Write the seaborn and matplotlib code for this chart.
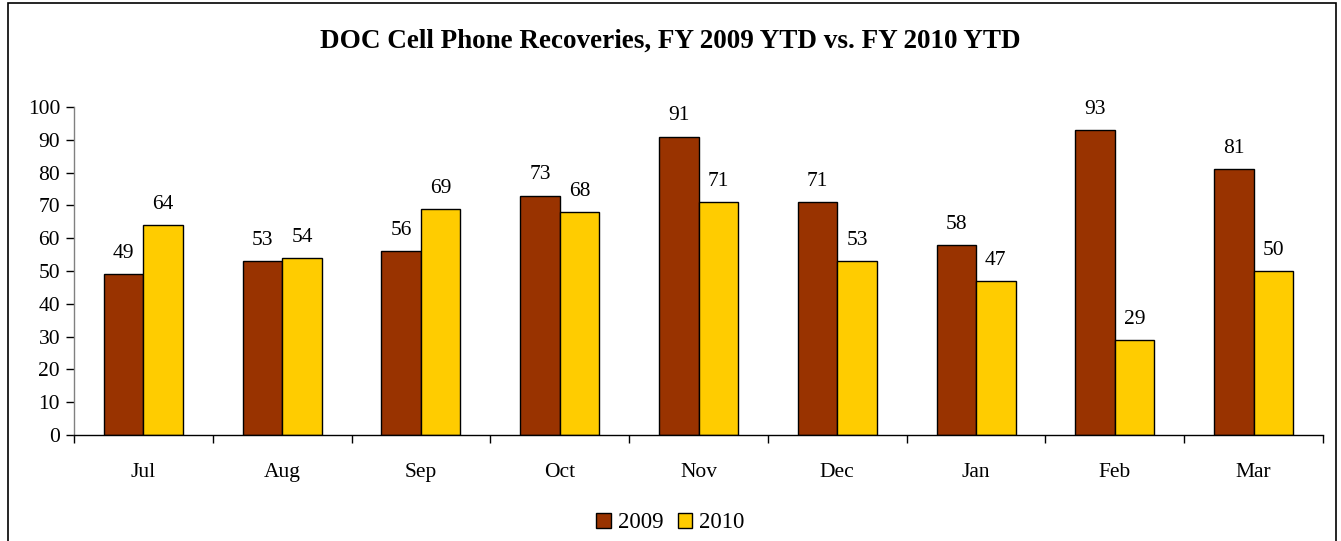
import matplotlib
matplotlib.use("Agg")
import matplotlib.pyplot as plt
import seaborn as sns
import pandas as pd
import numpy as np

months = ["Jul", "Aug", "Sep", "Oct", "Nov", "Dec", "Jan", "Feb", "Mar"]
fy2009 = [49, 53, 56, 73, 91, 71, 58, 93, 81]
fy2010 = [64, 54, 69, 68, 71, 53, 47, 29, 50]
series = ["2009", "2010"]
colors = ["#993300", "#FFCC00"]

df = pd.DataFrame({
    "Month": months * 2,
    "Value": fy2009 + fy2010,
    "Year": [series[0]] * len(months) + [series[1]] * len(months),
})

sns.set_style("white")
plt.rcParams["font.family"] = ["Liberation Serif", "DejaVu Serif"]
plt.rcParams["text.color"] = "black"
plt.rcParams["xtick.color"] = "black"
plt.rcParams["ytick.color"] = "black"
plt.rcParams["axes.labelcolor"] = "black"

fig = plt.figure(figsize=(13.41, 5.41), dpi=100)
ax = fig.add_axes([74 / 1341, 1 - 435 / 541, (1323 - 74) / 1341, (435 - 107) / 541])

sns.barplot(data=df, x="Month", y="Value", hue="Year", order=months, hue_order=series,
            palette=colors, width=0.57, edgecolor="black", linewidth=1.0,
            saturation=1, ax=ax, legend=True)

for cont in ax.containers:
    ax.bar_label(cont, labels=[f"{int(v)}" for v in cont.datavalues], padding=8,
                 fontsize=15.5, color="black")

ax.set_ylim(0, 100)
ax.set_yticks(range(0, 101, 10))
ax.set_xlim(-0.5, len(months) - 0.5)
ax.set_xlabel("")
ax.set_ylabel("")

ax.tick_params(axis="y", which="major", direction="out", length=6, width=1, color="black",
               labelcolor="black", labelsize=15.5, pad=4, left=True)
ax.tick_params(axis="x", which="major", length=0, labelsize=15.5, labelcolor="black", pad=20)
ax.set_xticks(np.arange(-0.5, len(months), 1.0), minor=True)
ax.tick_params(axis="x", which="minor", direction="out", length=6, width=1, color="black", bottom=True)

for s in ["top", "right"]:
    ax.spines[s].set_visible(False)
ax.spines["left"].set_color("#808080")
ax.spines["bottom"].set_color("black")
ax.spines["left"].set_linewidth(1)
ax.spines["bottom"].set_linewidth(1)

handles, labels = ax.get_legend_handles_labels()
ax.legend_.remove()
leg = fig.legend(handles, labels, loc="center", bbox_to_anchor=(0.5, 1 - 523 / 541), ncol=2,
                 frameon=False, fontsize=16.5, handlelength=0.65, handleheight=0.65,
                 handletextpad=0.3, columnspacing=0.6)
for t in leg.get_texts():
    t.set_color("black")

fig.text(0.5, 1 - 41 / 541, "DOC Cell Phone Recoveries, FY 2009 YTD vs. FY 2010 YTD",
         ha="center", va="center", fontsize=19.5, fontweight="bold", color="black")

border = plt.Rectangle((8 / 1341, -0.01), (1336 - 8) / 1341, 1 - 3 / 541 + 0.01,
                       transform=fig.transFigure, fill=False, edgecolor="black", linewidth=1.2)
fig.patches.append(border)

fig.savefig("out.png", dpi=100)
